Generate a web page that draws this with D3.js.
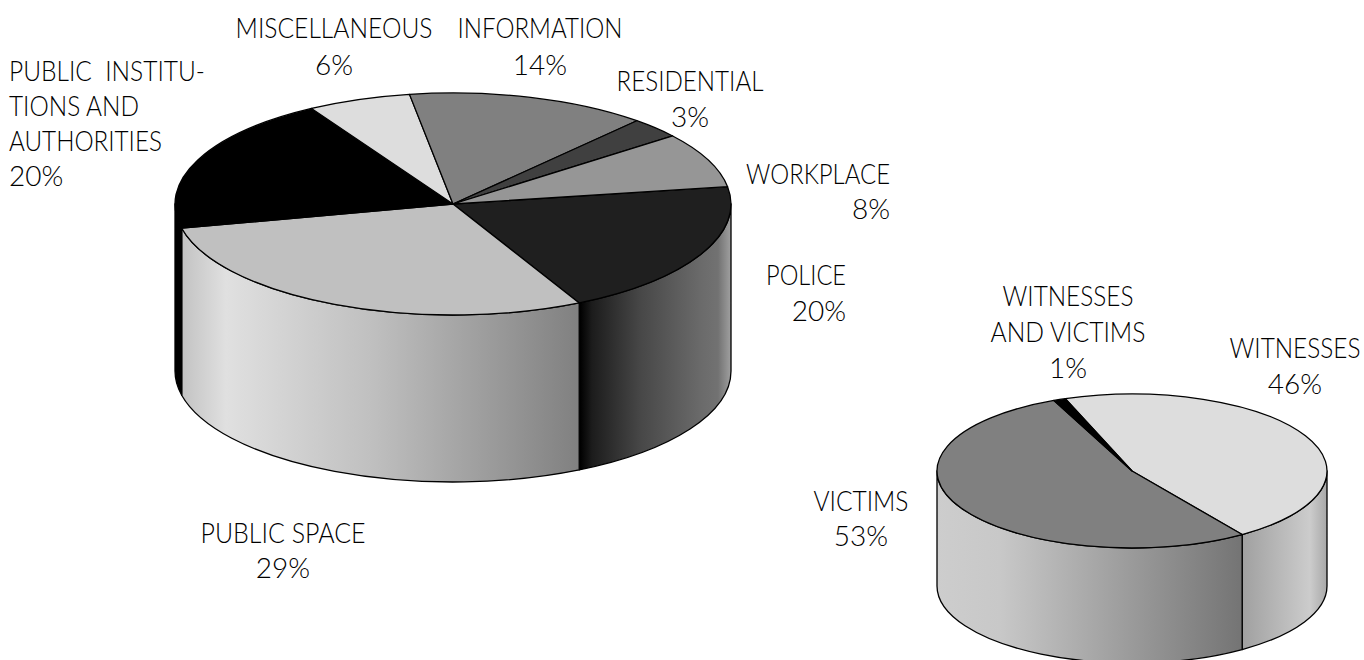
<!DOCTYPE html>
<html>
<head>
<meta charset="utf-8">
<script src="https://d3js.org/d3.v7.min.js"></script>
<style>
  html, body { margin: 0; padding: 0; background: #fff; overflow: hidden; }
  svg { display: block; }
  text { font-family: Lato, "Open Sans", sans-serif; font-size: 28px; font-weight: 300; fill: #000; }
</style>
</head>
<body>
<script>
'use strict';

// left pie, clockwise from the police slice
const placeCategories = ['POLICE', 'PUBLIC SPACE', 'PUBLIC INSTITUTIONS AND AUTHORITIES', 'MISCELLANEOUS', 'INFORMATION', 'RESIDENTIAL', 'WORKPLACE'];
const placeValues = [20, 29, 20, 6, 14, 3, 8];

// right pie, clockwise from the witnesses slice
const roleCategories = ['WITNESSES', 'VICTIMS', 'WITNESSES AND VICTIMS'];
const roleValues = [46, 53, 1];

(function() {
  const width = 1364;
  const height = 660;
  const rad = Math.PI / 180;

  const svg = d3.select('body')
    .append('svg')
    .attr('width', width)
    .attr('height', height);
  const defs = svg.append('defs');

  const pies = [
    {
      id: 'place', categories: placeCategories, values: placeValues,
      cx: 453, cy: 204, rx: 278, ry: 111, depth: 167, start: 81,
      fills: ['#1f1f1f', '#c0c0c0', '#000000', '#dddddd', '#808080', '#404040', '#969696'],
      shades: [
        [[580, '#000'], [592, '#1c1c1c'], [640, '#474747'], [700, '#6a6a6a'], [718, '#727272'], [731, '#a0a0a0']],
        [[184, '#c4c4c4'], [226, '#e0e0e0'], [370, '#c0c0c0'], [580, '#808080']],
        null, null, null, null, null
      ]
    },
    {
      id: 'role', categories: roleCategories, values: roleValues,
      cx: 1132, cy: 471, rx: 195, ry: 77, depth: 115, start: -20,
      fills: ['#dddddd', '#808080', '#000000'],
      shades: [
        [[1242, '#a0a0a0'], [1310, '#cccccc'], [1327, '#a8a8a8']],
        [[937, '#cdcdcd'], [1000, '#c8c8c8'], [1242, '#747474']],
        null
      ]
    }
  ];

  // anchor position, then each line as text, baseline and (for the names) its width
  const labels = [
    { x: 334, anchor: 'middle', lines: [['MISCELLANEOUS', 38, 197], ['6%', 75]] },
    { x: 540, anchor: 'middle', lines: [['INFORMATION', 38, 165], ['14%', 75]] },
    { x: 690, anchor: 'middle', lines: [['RESIDENTIAL', 91, 147], ['3%', 127]] },
    { x: 890, anchor: 'end', lines: [['WORKPLACE', 184, 144], ['8%', 219]] },
    { x: 846, anchor: 'end', lines: [['POLICE', 285, 80], ['20%', 321]] },
    { x: 9, anchor: 'start', lines: [['PUBLIC\u00a0\u00a0INSTITU-', 81, 196], ['TIONS AND', 116, 130], ['AUTHORITIES', 151, 153], ['20%', 186]] },
    { x: 283, anchor: 'middle', lines: [['PUBLIC SPACE', 543, 165], ['29%', 578]] },
    { x: 1068, anchor: 'middle', lines: [['WITNESSES', 306, 131], ['AND VICTIMS', 342, 155], ['1%', 378]] },
    { x: 1295, anchor: 'middle', lines: [['WITNESSES', 358, 131], ['46%', 394]] },
    { x: 861, anchor: 'middle', lines: [['VICTIMS', 511, 95], ['53%', 546]] }
  ];

  pies.forEach(drawPie);
  drawLabels();

  function drawPie(p) {
    const slices = d3.pie()
      .sort(null)
      .startAngle(p.start * rad)
      .endAngle((p.start + 360) * rad)(p.values);

    const g = svg.append('g').attr('class', p.id);

    // wall first so the top face sits over its edge
    slices.forEach(function(s, i) {
      const d = wallPath(p, s.startAngle, s.endAngle);
      if (!d) return;
      let fill = p.fills[i];
      if (p.shades[i]) {
        const gradId = p.id + '-shade-' + i;
        const stops = p.shades[i];
        const x = d3.scaleLinear()
          .domain([stops[0][0], stops[stops.length - 1][0]])
          .range([0, 100]);
        const grad = defs.append('linearGradient')
          .attr('id', gradId)
          .attr('gradientUnits', 'userSpaceOnUse')
          .attr('x1', stops[0][0]).attr('x2', stops[stops.length - 1][0])
          .attr('y1', 0).attr('y2', 0);
        stops.forEach(function(st) {
          grad.append('stop')
            .attr('offset', x(st[0]) + '%')
            .attr('stop-color', st[1]);
        });
        fill = 'url(#' + gradId + ')';
      }
      g.append('path')
        .attr('d', d)
        .attr('fill', fill)
        .attr('stroke', '#000')
        .attr('stroke-width', 1.3)
        .attr('stroke-linejoin', 'round');
    });

    const arc = d3.arc().innerRadius(0).outerRadius(p.rx);
    g.selectAll('path.top')
      .data(slices)
      .enter()
      .append('path')
        .attr('class', 'top')
        .attr('d', arc)
        .attr('transform', 'translate(' + p.cx + ',' + p.cy + ') scale(1,' + (p.ry / p.rx) + ')')
        .attr('fill', function(d, i) { return p.fills[i]; })
        .attr('stroke', '#000')
        .attr('stroke-width', 1.3)
        .attr('stroke-linejoin', 'round')
        .attr('vector-effect', 'non-scaling-stroke');
  }

  // only the stretch between 90 and 270 degrees faces the viewer
  function wallPath(p, a0, a1) {
    const from = Math.max(a0, 90 * rad);
    const to = Math.min(a1, 270 * rad);
    if (to <= from) return null;
    const px = function(a) { return p.cx + p.rx * Math.sin(a); };
    const py = function(a) { return p.cy - p.ry * Math.cos(a); };
    return 'M' + px(from) + ',' + py(from) +
      'A' + p.rx + ',' + p.ry + ' 0 0 1 ' + px(to) + ',' + py(to) +
      'L' + px(to) + ',' + (py(to) + p.depth) +
      'A' + p.rx + ',' + p.ry + ' 0 0 0 ' + px(from) + ',' + (py(from) + p.depth) +
      'Z';
  }

  function drawLabels() {
    labels.forEach(function(l) {
      l.lines.forEach(function(line) {
        const t = svg.append('text')
          .attr('text-anchor', l.anchor)
          .text(line[0]);
        // the reference face is narrower than Lato, so squeeze names to their width
        const k = line[2] ? line[2] / t.node().getComputedTextLength() : 1;
        t.attr('transform', 'translate(' + l.x + ',' + line[1] + ') scale(' + k + ',1)');
      });
    });
  }
})();
</script>
</body>
</html>
